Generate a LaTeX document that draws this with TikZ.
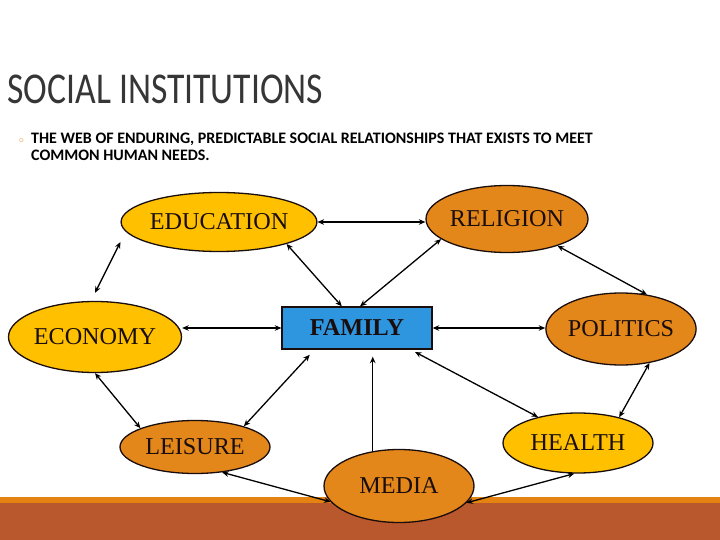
\documentclass[tikz,border=0pt]{standalone}
\usepackage{fontspec}
\usepackage{graphicx}
\setmainfont{Liberation Serif}
\newfontfamily\slidefont{Carlito}
\newfontfamily\bulletfont{DejaVu Sans}
\usetikzlibrary{shapes.geometric,arrows.meta}

\definecolor{gold}{HTML}{FFC000}
\definecolor{orng}{HTML}{E3871A}
\definecolor{famblue}{HTML}{2E95DF}
\definecolor{barorange}{HTML}{E48312}
\definecolor{barbrown}{HTML}{B9572D}
\definecolor{titlegray}{HTML}{363636}
\definecolor{ink}{HTML}{1A0D0D}

\begin{document}
\begin{tikzpicture}[
    x=1pt, y=-1pt,
    inst/.style={ellipse, draw=ink, line width=1.3pt, inner sep=0pt, text=ink, font=\fontsize{24.2}{28}\selectfont},
    goldinst/.style={inst, fill=gold},
    orginst/.style={inst, fill=orng},
    arrow/.style={{Stealth[length=6.5pt,width=5.5pt]}-{Stealth[length=6.5pt,width=5.5pt]}, line width=1.3pt},
    onearrow/.style={-{Stealth[length=6.5pt,width=5.5pt]}, line width=1.3pt}
]

\useasboundingbox[fill=white] (0,0) rectangle (720,540);

% bottom band of the slide
\fill[barorange] (0,497) rectangle (720,503);
\fill[barbrown] (0,503) rectangle (720,540);

% heading
\node[anchor=base west, text=titlegray, font=\slidefont\fontsize{44}{48}\selectfont] (title) at (4,104) {\scalebox{0.81}[1]{SOCIAL INSTITUTIONS}};
\node[anchor=base west, text=barorange, font=\bulletfont\fontsize{13}{14}\selectfont] (dot) at (14,146) {◦};
\node[anchor=north west, align=left, inner sep=0pt, font=\slidefont\bfseries\fontsize{16}{16.5}\selectfont] (defn) at (31,133)
  {THE WEB OF ENDURING, PREDICTABLE SOCIAL RELATIONSHIPS THAT EXISTS TO MEET\\COMMON HUMAN NEEDS.};

% institutions
\node[goldinst, minimum width=162, minimum height=59] (edu) at (219,222) {EDUCATION};
\node[orginst, minimum width=162, minimum height=67] (rel) at (507,219) {RELIGION};
\node[goldinst, minimum width=156, minimum height=71] (eco) at (95,337) {ECONOMY};
\node[orginst, minimum width=149, minimum height=72] (pol) at (621,329) {POLITICS};
\node[draw=ink, line width=1.3pt, fill=famblue, minimum width=150, minimum height=42, text=ink,
      font=\fontsize{24.2}{28}\selectfont\bfseries] (fam) at (357,328) {FAMILY};
\node[orginst, minimum width=150, minimum height=53] (lei) at (195,447) {LEISURE};
\node[goldinst, minimum width=150, minimum height=60] (hea) at (578,443) {HEALTH};
\node[orginst, minimum width=150, minimum height=73] (med) at (399,486) {MEDIA};

% links
\draw[arrow] (edu.east) -- (edu.east -| rel.west);
\draw[arrow] (edu.-18.7) -- (fam.125.5);
\draw[arrow] (rel.197) -- (fam.82);
\draw[arrow] ([yshift=-20pt]edu.west) -- ([yshift=8pt]eco.north);
\draw[arrow] (rel.-28) -- (pol.53);
\draw[arrow] (eco.east |- fam.west) -- (fam.west);
\draw[arrow] (fam.east) -- (pol.west |- fam.east);
\draw[arrow] (eco.south) -- (lei.161);
\draw[arrow, shorten <=7pt] (fam.207.7) -- (lei.23);
\draw[onearrow, shorten >=7pt] (med.127) -- (med.127 |- fam.south);
\draw[arrow, shorten <=5pt] (fam.-22.4) -- (hea.147);
\draw[arrow] (pol.-50) -- (hea.32);
\draw[arrow] (med.193) -- (lei.-43);
\draw[arrow] (med.-14) -- (hea.-97);

\end{tikzpicture}
\end{document}
